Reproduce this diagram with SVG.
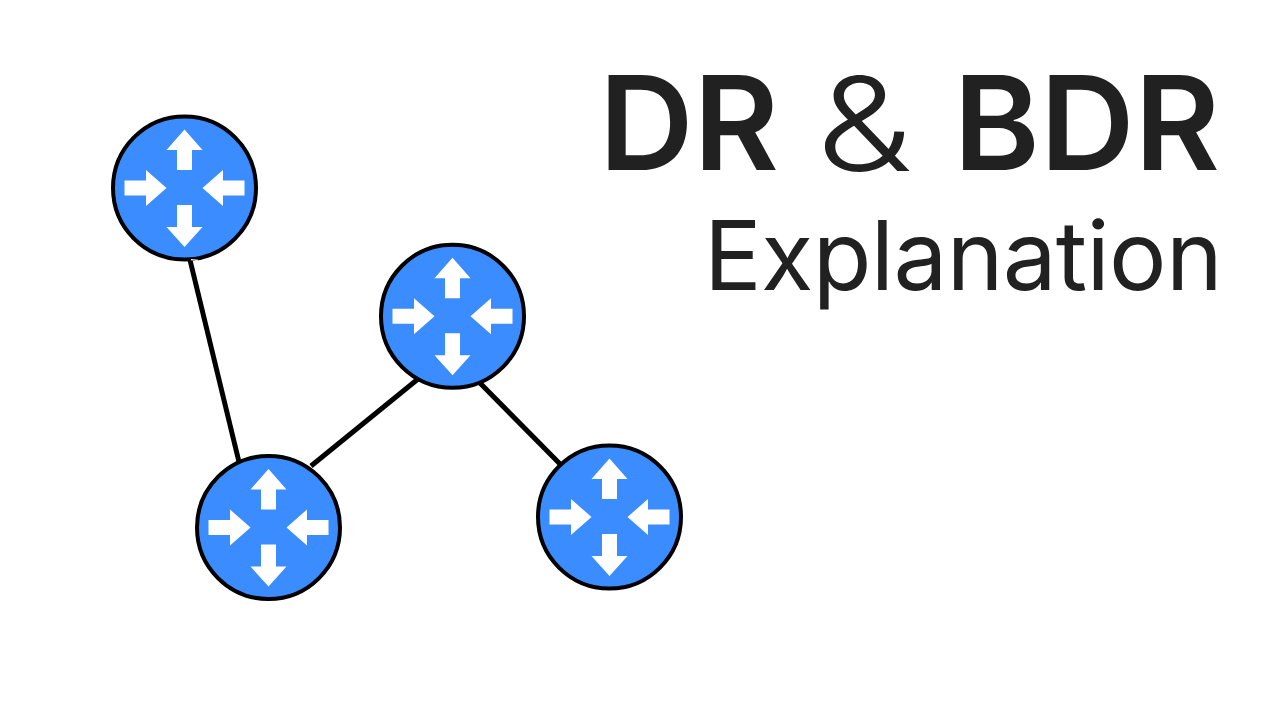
<svg xmlns="http://www.w3.org/2000/svg" width="1280" height="720" viewBox="0 0 1280 720">
<style>
.disc{fill:#3b8cff;stroke:#000;stroke-width:4}
.arr{fill:#fff}
.link{stroke:#000;stroke-width:5;fill:none}
text{font-family:"Inter","Roboto","Liberation Sans",sans-serif;fill:#212121}
</style>
<defs>
<g id="router">
<circle class="disc" r="71.500"/>
<path class="arr" d="M0-58.500 18-38H7.500V-18H-7.500V-38H-18Z"/>
<path class="arr" d="M0 59 18 39H7.500V17H-7.500V39H-18Z"/>
<path class="arr" d="M-18 0-38.500-18V-7.500H-60V7.500H-38.500V18Z"/>
<path class="arr" d="M18 0 38.500-18V-7.500H60V7.500H38.500V18Z"/>
</g>
</defs>
<rect width="1280" height="720" fill="#fff"/>
<g id="connectors">
<line class="link" x1="190" y1="260" x2="239" y2="462"/>
<line class="link" x1="418" y1="379" x2="311" y2="466"/>
<line class="link" x1="480" y1="383" x2="561" y2="465"/>
</g>
<g id="node-1"><use href="#router" x="184.500" y="188"/><line x1="191" y1="259.700" x2="198" y2="260.300" stroke="#fff" stroke-width="1.200"/></g>
<g id="node-2"><use href="#router" x="452.500" y="316.300"/></g>
<g id="node-3"><use href="#router" x="268.500" y="527.500"/></g>
<g id="node-4"><use href="#router" x="609.500" y="517"/></g>
<g id="title">
<text x="599" y="170" font-size="131" font-weight="600">DR</text>
<text transform="translate(816.500 170.500) scale(1.17 1)" font-size="131" font-weight="320">&amp;</text>
<text x="1220" y="170" font-size="131" font-weight="600" text-anchor="end">BDR</text>
<text x="1222" y="290" font-size="96" font-weight="400" text-anchor="end" letter-spacing="-0.700">Explanation</text>
</g>
</svg>
